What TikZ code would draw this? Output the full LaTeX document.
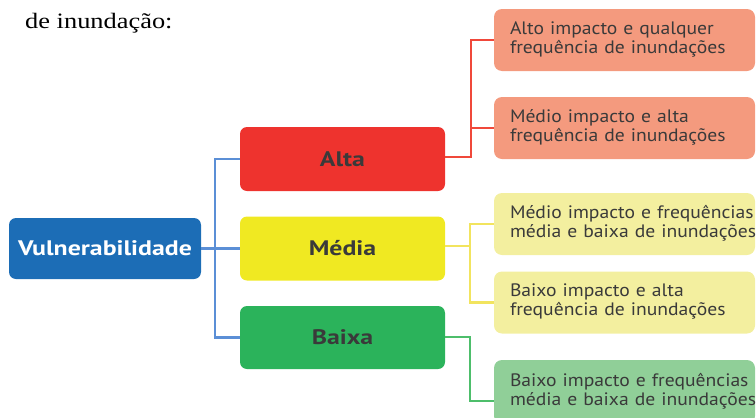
\documentclass[tikz,border=0pt]{standalone}
\usepackage{fontspec}
\setmainfont{Liberation Serif}[FakeStretch=1.2]
\setsansfont{PT Sans}[FakeStretch=1.23]
\newfontfamily\leaffont{PT Sans}[FakeStretch=1.09,WordSpace=0.85]
\definecolor{vulblue}{HTML}{1C6DB6}
\definecolor{altared}{HTML}{EE332E}
\definecolor{mediayellow}{HTML}{F0E922}
\definecolor{baixagreen}{HTML}{2BB35B}
\definecolor{leafred}{HTML}{F49A7E}
\definecolor{leafyellow}{HTML}{F3EF9F}
\definecolor{leafgreen}{HTML}{90CF98}
\definecolor{linkblue}{HTML}{5B8FD6}
\definecolor{linkred}{HTML}{F0483A}
\definecolor{linkyellow}{HTML}{F2E45E}
\definecolor{linkgreen}{HTML}{4DBE6B}
\definecolor{darktext}{HTML}{3A3A3A}
\newcommand{\leaftext}[2]{\begin{tabular}{@{}l@{}}#1\\#2\end{tabular}}

\begin{document}
\begin{tikzpicture}[x=1pt, y=-1pt,
  box/.style={rounded corners=7pt, inner sep=0pt, minimum width=205pt, minimum height=64pt,
    font=\sffamily\bfseries\fontsize{21}{23}\selectfont, text=darktext},
  leaf/.style={rounded corners=8pt, inner sep=0pt, minimum width=261pt, minimum height=62pt,
    text width=229pt, align=left, font=\leaffont\fontsize{18}{18.5}\selectfont, text=darktext},
  link/.style={line width=2.2pt}]
\useasboundingbox (0,0) rectangle (756,418);
\node[anchor=base west, inner sep=0pt, font=\fontsize{22}{26}\selectfont] (title) at (25,28) {de inundação:};
\node[box, fill=vulblue, text=white, minimum width=192pt, minimum height=61pt] (vul) at (105,248.5) {Vulnerabilidade};
\node[box, fill=altared] (alta) at (342.5,159) {Alta};
\node[box, fill=mediayellow] (media) at (342.5,248.5) {Média};
\node[box, fill=baixagreen, minimum height=63pt] (baixa) at (342.5,337.5) {Baixa};
\node[leaf, fill=leafred] (altoQ) at (624.5,40) {\leaftext{Alto impacto e qualquer}{frequência de inundações}};
\node[leaf, fill=leafred] (medioA) at (624.5,128) {\leaftext{Médio impacto e alta}{frequência de inundações}};
\node[leaf, fill=leafyellow] (medioF) at (624.5,224) {\leaftext{Médio impacto e frequências}{média e baixa de inundações}};
\node[leaf, fill=leafyellow] (baixoA) at (624.5,302.5) {\leaftext{Baixo impacto e alta}{frequência de inundações}};
\node[leaf, fill=leafgreen, minimum height=64pt] (baixoF) at (624.5,392) {\leaftext{Baixo impacto e frequências}{média e baixa de inundações}};
\coordinate (jv) at (215,248.5);
\coordinate (ja) at (471,157);
\coordinate (jm) at (470,246);
\coordinate (jb) at (470,337);
\coordinate (jg) at (470,401);
% links
\draw[link, linkblue] (vul.east) -- (jv) |- (alta.west);
\draw[link, linkblue] (jv) -- (media.west);
\draw[link, linkblue] (jv) |- (baixa.west);
\draw[link, linkred] (alta.east |- ja) -- (ja) |- (altoQ.west);
\draw[link, linkred] (ja) |- (medioA.west);
\draw[link, linkyellow] (media.east |- jm) -- (jm) |- (medioF.west);
\draw[link, linkyellow] (jm) |- (baixoA.west);
\draw[link, linkgreen] (baixa.east |- jb) -- (jb) -- (jg) -- (jg -| baixoF.west);
\end{tikzpicture}
\end{document}
